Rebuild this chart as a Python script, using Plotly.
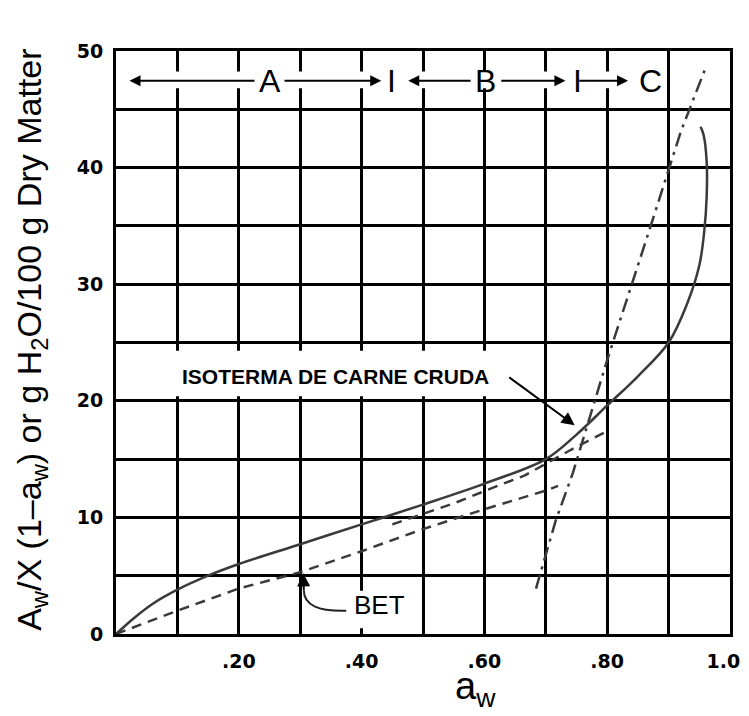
import plotly.graph_objects as go

# ---------------- data ----------------
# solid sorption isotherm (raw meat)
iso_aw = [0.0, 0.03, 0.06, 0.10, 0.15, 0.20, 0.30, 0.40, 0.50, 0.60, 0.70, 0.75, 0.80, 0.85,
          0.90, 0.93, 0.95, 0.958, 0.962, 0.962, 0.957, 0.952]
iso_val = [0.0, 1.4, 2.6, 3.8, 5.0, 6.0, 7.7, 9.4, 11.1, 12.9, 15.0, 17.1, 19.6, 22.1,
           25.0, 28.3, 31.6, 34.5, 37.5, 40.5, 42.8, 43.5]

# BET plot (lower dashed line)
bet_aw = [0.0, 0.05, 0.10, 0.20, 0.30, 0.40, 0.50, 0.60, 0.70, 0.72]
bet_val = [0.0, 1.0, 2.0, 3.9, 5.3, 7.1, 9.0, 10.7, 12.3, 12.7]

# second dashed line (just below the isotherm)
mid_aw = [0.45, 0.50, 0.55, 0.626, 0.666, 0.741, 0.80]
mid_val = [9.4, 10.3, 11.2, 12.8, 13.6, 15.8, 17.4]

# steep dash-dot line
steep_aw = [0.684, 0.716, 0.744, 0.80, 0.866, 0.92, 0.962]
steep_val = [3.9, 9.7, 13.8, 23.5, 34.2, 43.1, 48.8]

# axes ticks
x_tickvals = [0.0, 0.1, 0.2, 0.3, 0.4, 0.5, 0.6, 0.7, 0.8, 0.9, 1.0]
x_ticktext = ["", "", ".20", "", ".40", "", ".60", "", ".80", "", "1.00"]
y_tickvals = [0, 5, 10, 15, 20, 25, 30, 35, 40, 45, 50]
y_ticktext = ["0", "", "10", "", "20", "", "30", "", "40", "", "50"]

SANS = "Liberation Sans, Arial, sans-serif"

fig = go.Figure()

fig.add_trace(go.Scatter(x=iso_aw, y=iso_val, mode="lines", line_shape="spline",
                         line=dict(color="#3a3a3a", width=2.5), showlegend=False,
                         hoverinfo="skip"))
fig.add_trace(go.Scatter(x=bet_aw, y=bet_val, mode="lines",
                         line=dict(color="#3a3a3a", width=2.5, dash="10px,7px"),
                         showlegend=False, hoverinfo="skip"))
fig.add_trace(go.Scatter(x=mid_aw, y=mid_val, mode="lines",
                         line=dict(color="#3a3a3a", width=2.5, dash="10px,7px"),
                         showlegend=False, hoverinfo="skip"))
fig.add_trace(go.Scatter(x=steep_aw, y=steep_val, mode="lines",
                         line=dict(color="#3a3a3a", width=2.5, dash="14px,6px,3px,6px"),
                         showlegend=False, hoverinfo="skip"))

shapes = []
# white band behind the A / B / C region markers
shapes.append(dict(type="rect", xref="x", yref="y", x0=0.004, x1=0.893, y0=46.8, y1=48.25,
                   fillcolor="white", line=dict(width=0), layer="above"))
# white box behind isotherm label
shapes.append(dict(type="rect", xref="x", yref="y", x0=0.088, x1=0.635, y0=20.4, y1=24.3,
                   fillcolor="white", line=dict(width=0), layer="above"))
# white box behind BET label
shapes.append(dict(type="rect", xref="x", yref="y", x0=0.385, x1=0.475, y0=0.5, y1=3.7,
                   fillcolor="white", line=dict(width=0), layer="above"))
# curved BET pointer
shapes.append(dict(type="path", xref="x", yref="y",
                   path="M 0.375,2.0 Q 0.306,1.9 0.306,3.7",
                   line=dict(color="#222", width=2), layer="above"))

annotations = []
ARW = dict(showarrow=True, arrowhead=2, arrowsize=1.1, arrowwidth=2, arrowcolor="black",
           axref="x", ayref="y", xref="x", yref="y", text="", standoff=0)
yb = 47.45
# region arrows
for (x0, x1) in [(0.228, 0.022), (0.272, 0.432), (0.580, 0.476), (0.625, 0.732), (0.752, 0.834)]:
    annotations.append(dict(ARW, x=x1, y=yb, ax=x0, ay=yb))
for txt, xx in [("A", 0.250), ("I", 0.449), ("B", 0.602), ("I", 0.752), ("C", 0.871)]:
    annotations.append(dict(x=xx, y=yb, xref="x", yref="y", text=txt, showarrow=False,
                            font=dict(family=SANS, size=32, color="black"),
                            xanchor="center", yanchor="middle"))
# isotherm label + arrow
annotations.append(dict(x=0.357, y=22.1, xref="x", yref="y", text="<b>ISOTERMA DE CARNE CRUDA</b>",
                        showarrow=False, font=dict(family=SANS, size=21, color="black"),
                        xanchor="center", yanchor="middle"))
annotations.append(dict(ARW, x=0.747, y=17.9, ax=0.638, ay=22.1, arrowwidth=2, arrowsize=1.3))
# BET label + arrow
annotations.append(dict(x=0.429, y=2.5, xref="x", yref="y", text="BET", showarrow=False,
                        font=dict(family=SANS, size=26, color="black"),
                        xanchor="center", yanchor="middle"))
annotations.append(dict(ARW, x=0.305, y=5.2, ax=0.306, ay=3.6, arrowsize=1.3))
# axis titles
annotations.append(dict(x=-0.138, y=0.505, xref="paper", yref="paper",
                        text="A<sub>w</sub>/X (1\u2013a<sub>w</sub>) or g H<sub>2</sub>O/100 g Dry Matter",
                        textangle=-90, showarrow=False,
                        font=dict(family=SANS, size=34, color="black"),
                        xanchor="center", yanchor="middle"))
annotations.append(dict(x=0.585, y=-0.095, xref="paper", yref="paper",
                        text="a<sub>w</sub>", showarrow=False,
                        font=dict(family=SANS, size=38, color="black"),
                        xanchor="center", yanchor="middle"))

axis_common = dict(showgrid=True, gridcolor="black", gridwidth=3, showline=True,
                   linecolor="black", linewidth=3, mirror=True, ticks="", zeroline=False,
                   automargin=False,
                   tickfont=dict(family="DejaVu Sans, sans-serif", size=19, color="black",
                                 weight="bold"))

fig.update_layout(
    width=749, height=716,
    margin=dict(l=108, r=27, t=43, b=90),
    paper_bgcolor="white", plot_bgcolor="white",
    xaxis=dict(axis_common, range=[0, 1], tickmode="array", tickvals=x_tickvals,
               ticktext=x_ticktext, ticklabelstandoff=8),
    yaxis=dict(axis_common, range=[0, 50], tickmode="array", tickvals=y_tickvals,
               ticktext=y_ticktext, ticklabelstandoff=6),
    shapes=shapes, annotations=annotations,
)

fig.write_html("out.html")
